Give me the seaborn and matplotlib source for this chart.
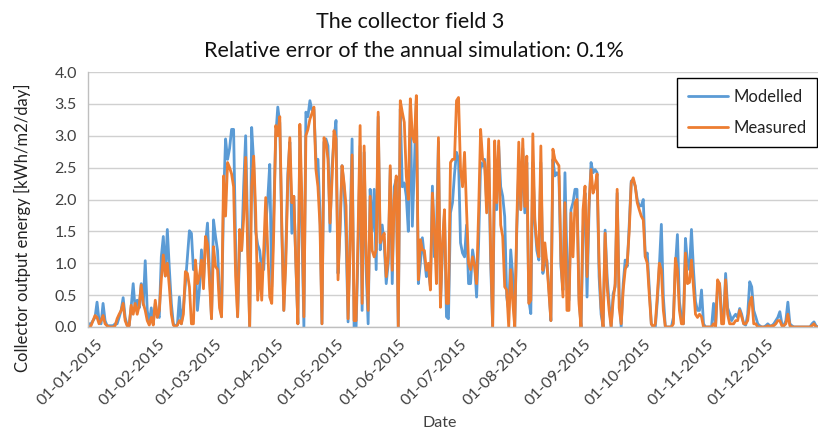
import numpy as np
import pandas as pd
import matplotlib
matplotlib.use("Agg")
import matplotlib.pyplot as plt
import matplotlib.dates as mdates
import matplotlib.transforms as mtransforms
from matplotlib.lines import Line2D
import seaborn as sns

# ---- data (daily values, kWh/m2/day) ----
modelled_jan = [0.05,0.05,0.1,0.15,0.39,0.1,0.05,0.37,0.1,0.02,0.02,0.02,0.02,0.05,0.05,0.15,0.26,0.46,0.15,0.03,0.02,0.32,0.68,0.27,0.42,0.3,0.68,0.35,1.04,0.26,0.05]
measured_jan = [0.0,0.02,0.1,0.18,0.15,0.05,0.1,0.18,0.05,0.02,0.0,0.0,0.0,0.02,0.13,0.2,0.26,0.37,0.1,0.02,0.02,0.34,0.2,0.37,0.2,0.34,0.66,0.37,0.26,0.1,0.03]
modelled_feb = [0.3,0.05,0.37,0.2,0.15,1.1,1.42,0.8,1.53,0.92,0.37,0.05,0.02,0.03,0.47,0.05,0.3,0.68,1.1,1.51,1.47,0.9,0.89,0.26,0.6,1.21,0.7,1.3]
measured_feb = [0.15,0.03,0.42,0.15,0.26,0.74,1.13,0.8,1.0,0.63,0.2,0.03,0.0,0.03,0.1,0.05,0.2,0.87,0.84,0.63,0.05,0.05,1.05,0.68,0.8,1.05,0.6,1.42]
modelled_mar = [1.63,0.9,0.13,1.68,1.42,1.2,0.5,0.16,2.0,2.95,2.63,2.8,3.1,3.1,1.3,0.16,1.2,1.2,2.2,3.0,1.5,0.0,3.13,2.58,1.5,1.29,1.2,0.9,0.9,1.6,2.0]
measured_mar = [1.3,0.7,0.13,1.26,0.95,0.9,0.3,0.16,2.37,1.74,2.58,2.5,2.4,2.2,0.8,0.16,1.53,1.2,1.7,2.66,1.2,0.0,2.2,2.68,1.8,0.42,1.0,0.42,1.2,2.03,1.2]
modelled_apr = [2.55,0.63,1.8,3.0,3.45,3.2,1.5,0.26,1.2,2.4,2.9,1.47,2.05,1.0,0.05,3.07,1.5,0.0,3.37,3.3,3.55,3.4,3.42,2.63,2.63,1.8,0.05,2.9,2.95,2.84]
measured_apr = [0.47,0.37,1.5,3.16,3.0,3.3,1.6,0.26,1.0,2.3,2.97,1.95,2.05,1.0,0.05,3.18,2.0,0.16,3.0,3.1,3.26,3.35,3.45,2.47,2.2,1.6,0.05,2.97,2.9,2.63]
modelled_may = [1.5,2.5,2.95,3.24,0.84,1.5,2.53,2.2,1.4,0.08,1.5,2.95,0.0,0.0,1.2,2.84,0.26,2.74,0.9,0.05,2.16,1.5,2.16,0.9,3.3,1.21,1.6,1.3,0.68,1.0,2.47]
measured_may = [1.63,2.3,3.08,2.95,0.74,1.6,2.53,2.26,1.9,0.13,1.2,2.7,0.1,0.1,1.5,3.16,0.37,2.84,1.16,0.26,2.05,1.2,1.1,1.21,3.37,1.32,1.4,1.47,0.79,1.1,2.53]
modelled_jun = [0.68,2.2,2.32,0.0,3.42,2.2,2.26,2.05,1.5,3.5,1.58,2.5,3.55,0.68,1.0,1.4,1.1,0.79,0.9,0.63,2.21,1.1,1.47,2.9,0.37,1.2,1.79,0.16,0.13,1.79]
measured_jun = [0.89,2.0,2.37,0.0,3.55,3.37,3.21,2.37,2.0,3.58,3.0,2.9,3.63,0.74,1.37,1.21,1.2,0.89,1.0,0.58,2.1,1.5,0.68,2.97,0.31,1.3,1.84,0.37,0.37,2.58]
modelled_jul = [1.95,2.4,2.74,2.63,1.32,1.16,1.1,1.6,0.68,0.68,1.21,1.0,0.47,1.3,2.58,2.52,2.63,1.95,2.68,1.0,0.0,2.47,1.84,2.84,2.2,2.05,1.73,0.47,0.26,1.21,0.8]
measured_jul = [2.63,2.63,3.55,3.6,2.47,2.2,2.74,1.84,1.0,0.9,1.1,0.95,0.68,1.8,3.1,2.63,2.58,1.79,2.95,1.2,0.0,2.92,1.95,2.92,1.6,1.42,0.63,0.58,0.0,0.9,0.4]
modelled_aug = [0.0,1.5,2.5,1.84,2.8,1.79,2.58,0.42,0.21,2.58,1.63,1.2,1.05,2.58,0.84,1.0,1.05,0.6,0.1,2.63,2.37,2.42,2.37,0.95,0.58,2.42,1.05,0.42,1.84,1.95,2.16]
measured_aug = [0.0,1.6,2.9,1.84,2.95,1.89,2.68,0.37,0.42,3.03,1.68,1.3,1.1,2.84,0.89,1.32,1.0,0.55,0.1,2.79,2.63,2.58,2.53,1.05,0.47,1.95,0.26,0.26,1.79,1.1,1.95]
modelled_sep = [2.16,0.47,0.0,1.5,2.1,0.47,1.84,2.58,2.42,2.47,2.42,0.79,0.2,0.0,1.52,0.79,0.37,0.0,0.52,0.63,2.1,0.5,0.0,0.68,1.05,0.95,1.6,2.29,2.3,2.21]
measured_sep = [2.0,0.37,0.0,1.84,2.21,0.79,1.95,2.47,2.1,2.2,2.4,1.0,0.3,0.0,1.47,0.63,0.26,0.0,0.42,0.68,2.16,0.3,0.05,0.58,0.9,1.0,1.5,2.26,2.34,2.21]
modelled_oct = [2.0,1.9,1.9,2.0,1.1,1.16,0.6,0.05,0.0,0.0,0.4,0.95,1.61,0.47,0.0,0.0,0.0,0.0,0.15,0.95,1.45,0.4,0.15,0.05,1.39,1.0,0.9,1.53,0.9,0.4,0.26]
measured_oct = [1.95,1.84,1.74,1.68,1.1,1.0,0.5,0.05,0.0,0.05,0.5,1.0,0.89,0.26,0.0,0.0,0.0,0.0,0.05,1.08,0.89,0.26,0.05,0.05,1.16,0.68,0.7,1.05,0.63,0.2,0.15]
modelled_nov = [0.26,0.58,0.05,0.0,0.0,0.0,0.0,0.37,0.0,0.63,0.68,0.2,0.1,0.84,0.3,0.21,0.1,0.16,0.2,0.15,0.29,0.2,0.05,0.03,0.2,0.71,0.63,0.26,0.16,0.05]
measured_nov = [0.2,0.16,0.0,0.0,0.0,0.0,0.0,0.05,0.0,0.74,0.68,0.05,0.05,0.74,0.2,0.05,0.05,0.05,0.1,0.1,0.26,0.16,0.05,0.05,0.1,0.37,0.47,0.05,0.05,0.0]
modelled_dec = [0.02,0.0,0.0,0.02,0.05,0.02,0.02,0.05,0.1,0.15,0.24,0.05,0.02,0.1,0.39,0.05,0.02,0.0,0.0,0.0,0.0,0.0,0.0,0.0,0.0,0.0,0.05,0.08,0.02,0.0,0.0]
measured_dec = [0.0,0.0,0.0,0.0,0.02,0.0,0.02,0.02,0.05,0.1,0.1,0.02,0.02,0.05,0.2,0.02,0.0,0.0,0.0,0.0,0.0,0.0,0.0,0.0,0.0,0.0,0.02,0.05,0.0,0.0,0.0]

series_names = ["Modelled", "Measured"]
title_lines = ["The collector field 3", "Relative error of the annual simulation: 0.1%"]
y_ticks = [0.0, 0.5, 1.0, 1.5, 2.0, 2.5, 3.0, 3.5, 4.0]

modelled = (modelled_jan + modelled_feb + modelled_mar + modelled_apr + modelled_may + modelled_jun +
            modelled_jul + modelled_aug + modelled_sep + modelled_oct + modelled_nov + modelled_dec)
measured = (measured_jan + measured_feb + measured_mar + measured_apr + measured_may + measured_jun +
            measured_jul + measured_aug + measured_sep + measured_oct + measured_nov + measured_dec)
dates = pd.date_range("2015-01-01", periods=len(modelled), freq="D")

df = pd.concat([
    pd.DataFrame({"Date": dates, "Energy": modelled, "Series": series_names[0]}),
    pd.DataFrame({"Date": dates, "Energy": measured, "Series": series_names[1]}),
], ignore_index=True)

# ---- style ----
sns.set_theme(style="white")
plt.rcParams["font.family"] = ["Lato", "DejaVu Sans"]

W, H = 818, 434
fig = plt.figure(figsize=(W / 100, H / 100), dpi=100)
ax_left, ax_right, ax_top, ax_bottom = 88, 821, 72, 327
ax = fig.add_axes([ax_left / W, 1 - ax_bottom / H, (ax_right - ax_left) / W, (ax_bottom - ax_top) / H])

palette = {"Modelled": "#5B9BD5", "Measured": "#ED7D31"}
lw = 2.0
sns.lineplot(data=df, x="Date", y="Energy", hue="Series", hue_order=series_names,
             palette=palette, linewidth=lw, ax=ax, legend=False)

ax.set_ylim(0, 4.0)
ax.set_yticks(y_ticks)
ax.set_yticklabels([f"{v:.1f}" for v in y_ticks])
ax.set_xlim(dates[0] - pd.Timedelta(hours=12), dates[-1] + pd.Timedelta(hours=12))
ax.xaxis.set_major_locator(mdates.MonthLocator())
ax.xaxis.set_major_formatter(mdates.DateFormatter("%d-%m-%Y"))

ax.grid(axis="y", color="#d0d0d0", linewidth=1.0)
ax.grid(axis="x", visible=False)
ax.set_axisbelow(True)
for s in ["top", "right"]:
    ax.spines[s].set_visible(False)
ax.spines["left"].set_color("#bfbfbf")
ax.spines["bottom"].set_color("#bfbfbf")
ax.spines["left"].set_linewidth(1.0)
ax.spines["bottom"].set_linewidth(1.0)

ax.tick_params(axis="y", labelsize=11.5, colors="#404040", length=0, pad=8)
ax.tick_params(axis="x", labelsize=11.5, colors="#404040", length=0, pad=6)
offset = mtransforms.ScaledTranslation(7 / 100, -2 / 100, fig.dpi_scale_trans)
for lbl in ax.get_xticklabels():
    lbl.set_rotation(45)
    lbl.set_ha("right")
    lbl.set_rotation_mode("anchor")
    lbl.set_transform(lbl.get_transform() + offset)

ax.set_xlabel("Date", fontsize=11.5, color="#404040")
ax.xaxis.set_label_coords((440 - ax_left) / (ax_right - ax_left), -(423 - ax_bottom) / (ax_bottom - ax_top))
ax.xaxis.label.set_va("center")
ax.set_ylabel("Collector output energy [kWh/m2/day]", fontsize=12, color="#222222")
ax.yaxis.set_label_coords(-(ax_left - 22) / (ax_right - ax_left), (ax_bottom - 228) / (ax_bottom - ax_top))
ax.yaxis.label.set_va("center")

fig.text(410 / W, 1 - 22 / H, title_lines[0], ha="center", va="center", fontsize=15.5, color="#111111")
fig.text(414 / W, 1 - 51 / H, title_lines[1], ha="center", va="center", fontsize=15.5, color="#111111")

handles = [Line2D([0], [0], color=palette[n], linewidth=lw) for n in series_names]
leg = fig.legend(handles, series_names, loc="upper right", bbox_to_anchor=(817 / W, 1 - 78 / H),
                 frameon=True, fancybox=False, edgecolor="black", framealpha=1, fontsize=12,
                 borderaxespad=0, handlelength=2.4, handletextpad=0.3, labelspacing=0.9,
                 borderpad=0.65)
leg.get_frame().set_linewidth(1.0)
for t in leg.get_texts():
    t.set_color("#222222")

fig.savefig("out.png", dpi=100)
